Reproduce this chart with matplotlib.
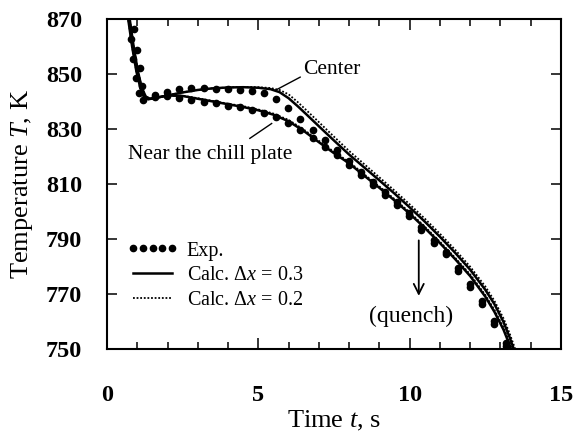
import matplotlib
matplotlib.use('Agg')
import matplotlib.pyplot as plt

plt.rcParams['font.family'] = ['Liberation Serif', 'DejaVu Serif']
plt.rcParams['mathtext.fontset'] = 'custom'
plt.rcParams['mathtext.rm'] = 'Liberation Serif'
plt.rcParams['mathtext.it'] = 'Liberation Serif:italic'

# calculated, dx = 0.3 (solid)
t_c3 = [0.66, 0.75, 0.88, 1.02, 1.15, 1.28, 1.42, 1.7, 2.0, 2.5, 3.0, 3.5, 4.0, 4.5, 5.0, 5.4, 5.7, 6.0,
        6.3, 6.6, 7.0, 7.5, 8.0, 8.5, 9.0, 9.5, 10.0, 10.5, 11.0, 11.5, 12.0, 12.5, 12.8, 13.1, 13.3, 13.55]
T_c3 = [876, 870, 860, 851, 845, 841.8, 841.0, 841.5, 842.2, 843.3, 844.2, 844.8, 845.1, 845.2, 845.0, 844.5,
        843.4, 841.2, 838.3, 835.2, 831.0, 825.8, 820.7, 816.0, 811.3, 806.5, 801.5, 796.3, 790.8, 785.0,
        778.8, 771.5, 766.3, 759.8, 754.3, 746.5]
t_n3 = [0.62, 0.70, 0.83, 0.97, 1.10, 1.22, 1.36, 1.6, 2.0, 2.5, 3.0, 3.5, 4.0, 4.5, 5.0, 5.5, 6.0, 6.5,
        7.0, 7.5, 8.0, 8.5, 9.0, 9.5, 10.0, 10.5, 11.0, 11.5, 12.0, 12.5, 12.8, 13.1, 13.3, 13.5]
T_n3 = [876, 870, 860, 851, 845, 841.6, 840.8, 841.3, 842.2, 842.0, 841.0, 840.0, 839.0, 838.0, 836.8, 835.2,
        832.8, 829.3, 825.2, 821.2, 817.5, 813.0, 808.6, 804.0, 799.2, 794.0, 788.5, 782.7, 776.5, 769.0,
        763.5, 757.0, 751.5, 745]

# calculated, dx = 0.2 (dotted)
T_c2 = [876, 870, 860, 851, 845, 841.8, 841.0, 841.5, 842.2, 843.3, 844.2, 844.8, 845.1, 845.3, 845.2, 844.9,
        844.2, 842.6, 839.8, 836.7, 832.5, 827.2, 822.0, 817.2, 812.4, 807.6, 802.6, 797.4, 791.9, 786.1,
        779.9, 772.7, 767.5, 761.1, 755.7, 748.0]
T_n2 = [876, 870, 860, 851, 845, 841.6, 840.8, 841.3, 842.2, 842.1, 841.2, 840.2, 839.2, 838.3, 837.1, 835.6,
        833.3, 829.8, 825.7, 821.7, 818.0, 813.5, 809.1, 804.5, 799.7, 794.5, 789.0, 783.2, 777.1, 769.6,
        764.2, 757.8, 752.4, 746]

# experiment
t_ec = [0.90, 1.00, 1.09, 1.17, 1.59, 1.99, 2.39, 2.79, 3.19, 3.59, 3.99, 4.39, 4.79, 5.19, 5.59, 5.99, 6.39,
        6.79, 7.19, 7.59, 7.99, 8.39, 8.79, 9.19, 9.59, 9.99, 10.39, 10.79, 11.19, 11.59, 11.99, 12.39, 12.79, 13.19]
T_ec = [866.4, 858.7, 852.1, 845.6, 842.4, 843.6, 844.4, 844.8, 844.8, 844.7, 844.4, 844.2, 843.9, 843.0, 840.8,
        837.5, 833.5, 829.6, 826.0, 822.5, 818.5, 814.5, 810.8, 807.2, 803.6, 799.5, 794.5, 789.5, 785.4, 779.5,
        773.5, 767.5, 760.0, 752.0]
t_en = [0.78, 0.87, 0.96, 1.07, 1.20, 1.59, 1.99, 2.39, 2.79, 3.19, 3.59, 3.99, 4.39, 4.79, 5.19, 5.59, 5.99,
        6.39, 6.79, 7.19, 7.59, 7.99, 8.39, 8.79, 9.19, 9.59, 9.99, 10.39, 10.79, 11.19, 11.59, 11.99, 12.39, 12.79, 13.19]
T_en = [862.6, 855.3, 848.7, 843.2, 840.5, 841.5, 842.0, 841.2, 840.5, 839.9, 839.3, 838.4, 837.9, 836.9, 835.7,
        834.5, 832.3, 829.6, 826.6, 823.6, 820.5, 817.0, 813.2, 809.5, 806.0, 802.5, 798.5, 793.3, 788.5, 784.5,
        778.5, 772.5, 766.5, 759.0, 751.0]

fig = plt.figure(figsize=(5.74, 4.34), dpi=100)
ax = fig.add_axes([0.1864, 0.1959, 0.791, 0.7603])

ax.plot(t_ec, T_ec, 'o', color='black', ms=4.5, label='Exp.')
ax.plot(t_en, T_en, 'o', color='black', ms=4.5)
ax.plot(t_c3, T_c3, '-', color='black', lw=1.8, label=r'Calc. Δ$x$ = 0.3')
ax.plot(t_n3, T_n3, '-', color='black', lw=1.8)
ax.plot(t_c3, T_c2, color='black', lw=1.3, ls=(0, (1, 1)), label=r'Calc. Δ$x$ = 0.2')
ax.plot(t_n3, T_n2, color='black', lw=1.3, ls=(0, (1, 1)))

ax.set_xlim(0, 15)
ax.set_ylim(750, 870)
ax.set_xticks([0, 5, 10, 15])
ax.set_xticks(range(0, 16), minor=True)
ax.set_yticks(range(750, 871, 20))
ax.tick_params(direction='in', top=True, right=True, which='both', width=1.1)
ax.tick_params(axis='x', which='major', length=8, pad=26)
ax.tick_params(axis='x', which='minor', length=5)
ax.tick_params(axis='y', which='major', length=7, pad=18)
for lab in ax.get_xticklabels() + ax.get_yticklabels():
    lab.set_fontweight('bold')
    lab.set_fontsize(17.5)
for sp in ax.spines.values():
    sp.set_linewidth(1.5)

ax.set_xlabel(r'Time $t$, s', fontsize=19, labelpad=2)
ax.set_ylabel(r'Temperature $T$, K', fontsize=19, labelpad=8)

ax.annotate('Center', xy=(5.55, 844.0), xytext=(6.48, 851.5), fontsize=15.5, va='center',
            arrowprops=dict(arrowstyle='-', color='black', lw=1, shrinkA=0, shrinkB=0,
                            relpos=(0, 0.2)))
ax.plot([4.72, 5.44], [826.6, 832.0], color='black', lw=1)
ax.text(0.7, 820.9, 'Near the chill plate', fontsize=15.5, va='center')
ax.annotate('', xy=(10.3, 768.3), xytext=(10.3, 790.5),
            arrowprops=dict(arrowstyle='->', color='black', lw=1.3, mutation_scale=18))
ax.text(10.04, 762.0, '(quench)', fontsize=17, ha='center', va='center')

ax.legend(loc='upper left', bbox_to_anchor=(0.045, 0.326), frameon=False, numpoints=5,
          fontsize=14.5, handlelength=2.5, handletextpad=0.45, labelspacing=0.28,
          borderpad=0, borderaxespad=0)

fig.savefig('out.png', dpi=100)
